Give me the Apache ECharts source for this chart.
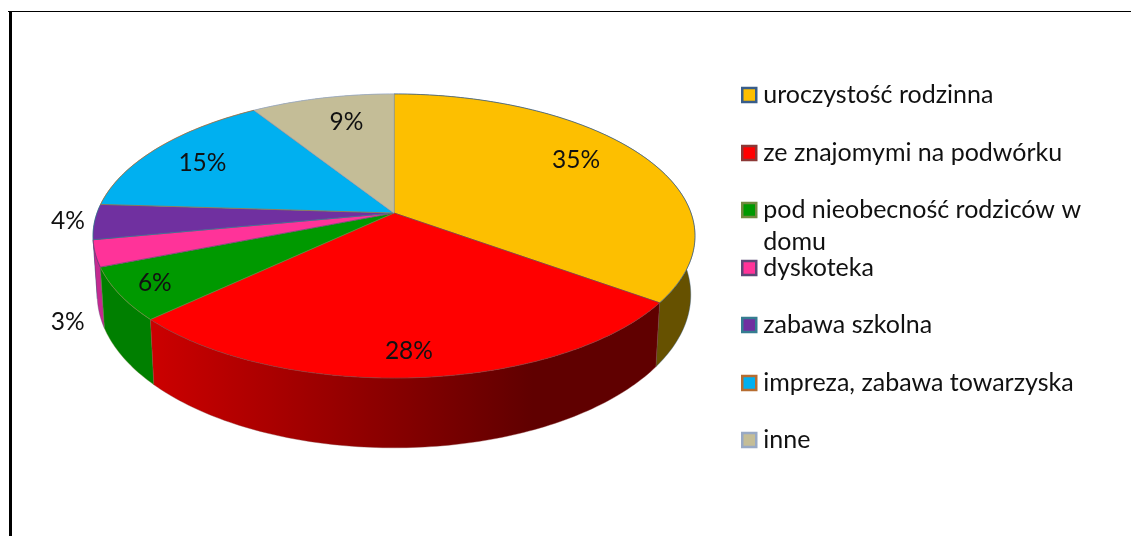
<!DOCTYPE html>
<html><head><meta charset="utf-8">
<style>html,body{margin:0;padding:0;background:#fff}#c{width:1131px;height:536px}</style>
<script src="https://cdn.jsdelivr.net/npm/echarts@6/dist/echarts.min.js"></script>
</head><body><div id="c"></div>
<script>
const categories = ['uroczystość rodzinna','ze znajomymi na podwórku','pod nieobecność rodziców w domu','dyskoteka','zabawa szkolna','impreza, zabawa towarzyska','inne'];
const legendText = ['uroczystość rodzinna','ze znajomymi na podwórku','\npod nieobecność rodziców w\ndomu','dyskoteka','zabawa szkolna','impreza, zabawa towarzyska','inne'];
const values = [35,28,6,3,4,15,9];
const topColors = ['#FDBF00','#FF0000','#009900','#FF3399','#7030A0','#00B0F0','#C4BD97'];
const edgeColors = ['#385D8A','#8C3836','#71893F','#5C4776','#357D91','#B66D31','#98A9C5'];
const wallLeft = ['#665100','#CC0000','#007F00','#C42A90','#4A2070','#007AA8','#8A8468'];
const wallRight = ['#665100','#600000','#007800','#C42A90','#4A2070','#007AA8','#8A8468'];
const labelOffset = [[-6,-8],[-1,20],[-38,11],[-105,79],[-102,2],[-11,0],[8,-2]];

const total = values.reduce((a,b)=>a+b,0);
const P = {cx:394, apexY:213, K:297, k:138.3, p:0.162, bottomScale:0.986, bottomY:270, bottomK:149};
function project(frac, r){
  const t = frac*2*Math.PI, u = Math.sin(t)*r, v = -Math.cos(t)*r, d = 1-P.p*v;
  return {u, v, d, x:P.cx+P.K*u/d, y:P.apexY+P.k*v/d,
          bx:P.cx+P.bottomScale*P.K*u/d, by:P.bottomY+P.bottomK*v/d};
}
function arc(a,b){ const n=Math.max(2,Math.ceil((b-a)*360)), o=[]; for(let i=0;i<=n;i++) o.push(project(a+(b-a)*i/n,1)); return o; }

function renderSlice(idx){
  return function(params, api){
    let before = 0; for(let i=0;i<idx;i++) before+=values[i];
    const a = before/total, b = (before+api.value(0))/total;
    const pts = arc(a,b);
    const topPoly = [[P.cx,P.apexY]].concat(pts.map(q=>[q.x,q.y]));
    const wallPoly = pts.map(q=>[q.x,q.y]).concat(pts.slice().reverse().map(q=>[q.bx,q.by]));
    const mid = project((a+b)/2,0.75);
    const grad = new echarts.graphic.LinearGradient(150,0,660,0,[
      {offset:0,color:wallLeft[idx]},{offset:0.75,color:wallRight[idx]},{offset:1,color:wallRight[idx]}],true);
    return {type:'group',children:[
      {type:'polygon',z2:10+Math.round(project((a+b)/2,1).v*20)+20,shape:{points:wallPoly},
       style:{fill:grad,stroke:edgeColors[idx],lineWidth:0.4}},
      {type:'polygon',z2:100,shape:{points:topPoly},style:{fill:topColors[idx],stroke:edgeColors[idx],lineWidth:0.7}},
      {type:'text',z2:200,x:mid.x+labelOffset[idx][0],y:mid.y+labelOffset[idx][1],
       style:{text:Math.round(api.value(0))+'%',fill:'#111',font:'24.5px Lato',align:'center',verticalAlign:'middle'}}
    ]};
  };
}
const legendCenters = [95,153,210,268,325,383,440];
const chart = echarts.init(document.getElementById('c'),null,{renderer:'canvas'});
chart.setOption({
  animation:false,
  backgroundColor:'#fff',
  graphic:[
    {type:'rect',shape:{x:8,y:11,width:1123,height:1},style:{fill:'#000'}},
    {type:'rect',shape:{x:9,y:11,width:3,height:525},style:{fill:'#000'}}
  ],
  legend: categories.map((c,i)=>({
    data:[c], orient:'vertical', left:741, top:legendCenters[i]-(i===2?48:16),
    padding:0, selectedMode:false, itemWidth:14, itemHeight:14, itemGap:0, icon:'rect',
    formatter:()=>legendText[i],
    textStyle:{fontFamily:'Lato',fontSize:25,color:'#111',lineHeight:32,padding:[0,0,0,2]},
    itemStyle:{color:topColors[i],borderColor:edgeColors[i],borderWidth:2.5}
  })),
  series: categories.map((c,i)=>({
    type:'custom', name:c, coordinateSystem:'none', silent:true,
    itemStyle:{color:topColors[i]},
    data:[[values[i]]], renderItem:renderSlice(i)
  }))
});
</script></body></html>
